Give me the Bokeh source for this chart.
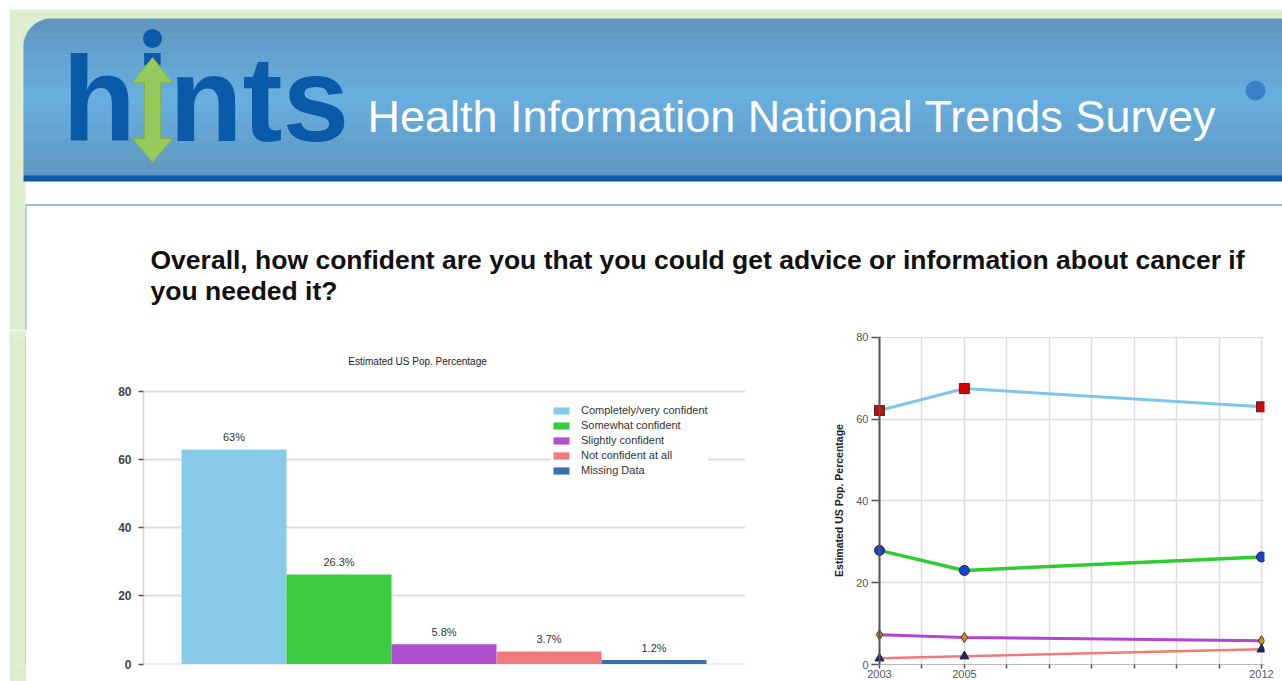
from bokeh.plotting import figure
from bokeh.layouts import column, row
from bokeh.models import Range1d, FixedTicker, ColumnDataSource, Span
from bokeh.core.properties import value
from bokeh.embed import file_html
from bokeh.resources import INLINE
import numpy as np

# ---------------- data ----------------
page_title_1 = "Overall, how confident are you that you could get advice or information about cancer if"
page_title_2 = "you needed it?"
header_text = "Health Information National Trends Survey"
logo_text = "hints"

bar_categories = ["Completely/very confident", "Somewhat confident", "Slightly confident",
                  "Not confident at all", "Missing Data"]
bar_values = [63.0, 26.3, 5.8, 3.7, 1.2]
bar_labels = ["63%", "26.3%", "5.8%", "3.7%", "1.2%"]
bar_colors = ["#88cbe9", "#3ccb40", "#b04fd0", "#ef7b7b", "#3a6fab"]
bar_chart_title = "Estimated US Pop. Percentage"

years = [2003, 2005, 2012]
trend_completely = [62.1, 67.5, 63.0]
trend_somewhat = [27.9, 23.0, 26.3]
trend_slightly = [7.3, 6.6, 5.8]
trend_not_at_all = [1.5, 2.0, 3.7]
trend_axis_label = "Estimated US Pop. Percentage"

y_ticks = [0, 20, 40, 60, 80]
year_ticks = list(range(2003, 2013))
year_tick_labels = {2003: "2003", 2005: "2005", 2012: "2012"}

GREEN_BG = "#dfeecf"
BORDER = "#7ea7cc"
FONT = value("Liberation Sans")

# row frames share the same top / bottom borders (bokeh aligns them)
B_TOP, B_BOT = 6, 17


def canvas(w, h, x0, y0, bt=0, bb=0, fill="white"):
    f = figure(width=w, height=h, x_range=Range1d(x0, x0 + w), y_range=Range1d(y0 + h - bb, y0 + bt),
               output_backend="svg", toolbar_location=None, title=None,
               min_border_left=0, min_border_right=0, min_border_top=bt, min_border_bottom=bb,
               x_axis_type=None, y_axis_type=None)
    f.grid.visible = False
    f.outline_line_color = None
    f.background_fill_color = fill
    f.border_fill_color = fill
    return f


# ---------------- top part: header + question ----------------
W, H_TOP = 1282, 330
top = canvas(W, H_TOP, 0, 0)
top.quad(left=[9], right=[W], top=[9], bottom=[H_TOP], fill_color=GREEN_BG, line_color=None)
top.quad(left=[25], right=[W], top=[181], bottom=[H_TOP], fill_color="white", line_color=None)

# header gradient
hx0, hy0, hy1 = 23, 18, 175
n = 60
edges = np.linspace(hy0, hy1, n + 1)
c_top = np.array([0x60, 0x95, 0xbe])
c_mid = np.array([0x67, 0xaf, 0xe0])
c_bot = np.array([0x60, 0x96, 0xc0])
cols = []
for i in range(n):
    t = (i + 0.5) / n
    if t < 0.5:
        c = c_top + (c_mid - c_top) * (t / 0.5)
    else:
        c = c_mid + (c_bot - c_mid) * ((t - 0.5) / 0.5)
    cols.append("#%02x%02x%02x" % tuple(int(round(v)) for v in c))
top.quad(left=hx0, right=W, top=edges[:-1], bottom=edges[1:] + 0.6, fill_color=cols, line_color=None)
# rounded corner mask
r = 28
ang = np.linspace(np.pi, 1.5 * np.pi, 30)
mx = list(hx0 + r + r * np.cos(ang)) + [hx0 - 1]
my = list(hy0 + r + r * np.sin(ang)) + [hy0 - 1]
top.patch(mx, my, fill_color=GREEN_BG, line_color=None)
top.quad(left=[hx0], right=[W], top=[175], bottom=[181], fill_color="#0b5ba8", line_color=None)

# panel border
top.segment(x0=[25.5], y0=[204.5], x1=[W], y1=[204.5], line_color=BORDER, line_width=1.5)
top.quad(left=[25], right=[26], top=[204], bottom=[H_TOP], fill_color=BORDER, line_color=None)

# logo
LOGO_SIZE = 120
top.text(x=[62], y=[140 - 0.35 * LOGO_SIZE], text=[logo_text], text_font=FONT, text_font_style="bold",
         text_font_size="%dpx" % LOGO_SIZE, text_color="#0a5aaa", text_baseline="middle", text_align="left")
ax = [152, 172, 160, 160, 172, 152, 132, 144, 144, 132]
ay = [57, 82, 82, 138, 138, 162, 138, 138, 82, 82]
top.patch(ax, ay, fill_color="#97ca5c", line_color="#7fb548", line_width=1)
top.scatter(x=[152], y=[38], size=19, fill_color="#0a5aaa", line_color=None)

HS = 45
top.text(x=[367], y=[132 - 0.35 * HS], text=[header_text], text_font=FONT, text_font_size="%dpx" % HS,
         text_color="white", text_baseline="middle", text_align="left")
top.scatter(x=[1255], y=[90], size=20, fill_color="#3a80c6", line_color=None)
top.scatter(x=[1292], y=[90], size=20, fill_color="#78c04a", line_color=None)

# question
TS = 26.5
top.text(x=[150], y=[269 - 0.35 * TS], text=[page_title_1], text_font=FONT, text_font_style="bold",
         text_font_size="%.1fpx" % TS, text_color="#111111", text_baseline="middle", text_align="left")
top.text(x=[150], y=[300 - 0.35 * TS], text=[page_title_2], text_font=FONT, text_font_style="bold",
         text_font_size="%.1fpx" % TS, text_color="#111111", text_baseline="middle", text_align="left")

# ---------------- lower left strips ----------------
H_LOW = 351
strip_white = canvas(9, H_LOW, 0, H_TOP, B_TOP, B_BOT, fill="white")
strip_green = canvas(16, H_LOW, 9, H_TOP, B_TOP, B_BOT, fill=GREEN_BG)
strip_line = canvas(1, H_LOW, 25, H_TOP, B_TOP, B_BOT, fill=BORDER)
left = canvas(74, H_LOW, 26, H_TOP, B_TOP, B_BOT, fill="white")

# ---------------- bar chart ----------------
# frame spans page y 336..664 ; value 0 at 663.5, 80 at 391
bpu = (663.5 - 391) / 80.0
bp = figure(width=670, height=H_LOW, x_range=Range1d(-0.862, 4.871),
            y_range=Range1d(-(664 - 663.5) / bpu, (663.5 - 336) / bpu),
            output_backend="svg", toolbar_location=None, x_axis_type=None, title=None,
            min_border_left=43, min_border_right=25, min_border_top=B_TOP, min_border_bottom=B_BOT)
bp.outline_line_color = None
bp.background_fill_color = "white"
bp.border_fill_color = "white"
src = ColumnDataSource(dict(x=list(range(len(bar_values))), top=bar_values, cat=bar_categories,
                            color=bar_colors, lab=bar_labels))
bp.vbar(x="x", top="top", bottom=0, width=1.0, fill_color="color", line_color=None,
        legend_field="cat", source=src)
bp.text(x="x", y="top", text="lab", source=src, y_offset=-6, text_font=FONT, text_font_size="11px",
        text_color="#333333", text_align="center", text_baseline="bottom")
bp.yaxis.ticker = FixedTicker(ticks=y_ticks)
bp.yaxis.bounds = (0, 80)
bp.yaxis.axis_line_color = "#d6d6d6"
bp.yaxis.axis_line_width = 1.5
bp.yaxis.major_tick_out = 5
bp.yaxis.major_tick_in = 0
bp.yaxis.major_tick_line_color = "#555555"
bp.yaxis.major_tick_line_width = 1.5
bp.yaxis.minor_tick_line_color = None
bp.yaxis.major_label_text_font = "Liberation Sans"
bp.yaxis.major_label_text_font_size = "12px"
bp.yaxis.major_label_text_font_style = "bold"
bp.yaxis.major_label_text_color = "#444444"
bp.yaxis.major_label_standoff = 7
bp.ygrid.ticker = FixedTicker(ticks=y_ticks)
bp.ygrid.grid_line_color = "#dedede"
bp.ygrid.grid_line_width = 2
bp.xgrid.visible = False
bp.text(x=[1.748], y=[(663.5 - 361) / bpu], text=[bar_chart_title], text_font=FONT, text_font_size="10px",
        text_color="#222222", text_align="center", text_baseline="middle")
lg = bp.legend[0]
lg.location = (408, 187)
lg.background_fill_color = "white"
lg.background_fill_alpha = 1.0
lg.border_line_color = None
lg.glyph_width = 20
lg.glyph_height = 9
lg.label_height = 14
lg.label_standoff = 10
lg.spacing = 1
lg.padding = 4
lg.margin = 0
lg.label_text_font = "Liberation Sans"
lg.label_text_font_size = "11px"
lg.label_text_color = "#333333"

# ---------------- spacer ----------------
mid = canvas(55, H_LOW, 770, H_TOP, B_TOP, B_BOT)

# ---------------- trend chart ----------------
ppy = (1261 - 879) / 9.0
lp = figure(width=457, height=H_LOW,
            x_range=Range1d(2003 - 8 / ppy, 2012 + 3 / ppy),
            y_range=Range1d(0, 80.2),
            output_backend="svg", toolbar_location=None, title=None,
            min_border_left=46, min_border_right=18, min_border_top=B_TOP, min_border_bottom=B_BOT)
lp.outline_line_color = None
lp.background_fill_color = "white"
lp.border_fill_color = "white"
lp.xaxis.ticker = FixedTicker(ticks=year_ticks)
lp.xaxis.major_label_overrides = {y: year_tick_labels.get(y, "") for y in year_ticks}
lp.yaxis.ticker = FixedTicker(ticks=y_ticks)
for axx in (lp.xaxis, lp.yaxis):
    axx.minor_tick_line_color = None
    axx.major_tick_line_color = "#555555"
    axx.major_tick_line_width = 1.5
    axx.major_label_text_font = "Liberation Sans"
    axx.major_label_text_font_size = "11px"
    axx.major_label_text_color = "#555555"
lp.xaxis.major_tick_out = 4
lp.xaxis.major_tick_in = 0
lp.xaxis.major_label_standoff = 1
lp.xaxis.axis_line_color = "#bbbbbb"
lp.yaxis.major_tick_out = 0
lp.yaxis.major_tick_in = 7
lp.yaxis.major_label_standoff = 3
lp.yaxis.axis_line_color = None
lp.yaxis.axis_label = trend_axis_label
lp.yaxis.axis_label_text_font = "Liberation Sans"
lp.yaxis.axis_label_text_font_size = "10.5px"
lp.yaxis.axis_label_text_font_style = "bold"
lp.yaxis.axis_label_text_color = "#222222"
lp.yaxis.axis_label_standoff = 8
lp.grid.grid_line_color = "#dddddd"
lp.grid.grid_line_width = 1.5
lp.xgrid.ticker = FixedTicker(ticks=year_ticks)
lp.ygrid.ticker = FixedTicker(ticks=y_ticks)
lp.add_layout(Span(location=years[0], dimension="height", line_color="#555555", line_width=2))

lp.line(years, trend_completely, line_color="#7fc6e8", line_width=3)
lp.line(years, trend_somewhat, line_color="#2fcc2f", line_width=3.5)
lp.line(years, trend_slightly, line_color="#b245d4", line_width=3)
lp.line(years, trend_not_at_all, line_color="#f07a7a", line_width=2.5)
lp.scatter(years, trend_completely, marker="square", size=10, fill_color="#dd0000", line_color="#333333")
lp.scatter(years, trend_somewhat, marker="circle", size=10, fill_color="#1a40d6", line_color="#222244")
lp.scatter(years, trend_slightly, marker="diamond", size=10, fill_color="#cc8f1f", line_color="#333333")
lp.scatter(years, trend_not_at_all, marker="triangle", size=9, fill_color="#14285a", line_color="#14285a")

layout = column(top, row(strip_white, strip_green, strip_line, left, bp, mid, lp, spacing=0), spacing=0)
open("out.html", "w").write(file_html(layout, INLINE))
